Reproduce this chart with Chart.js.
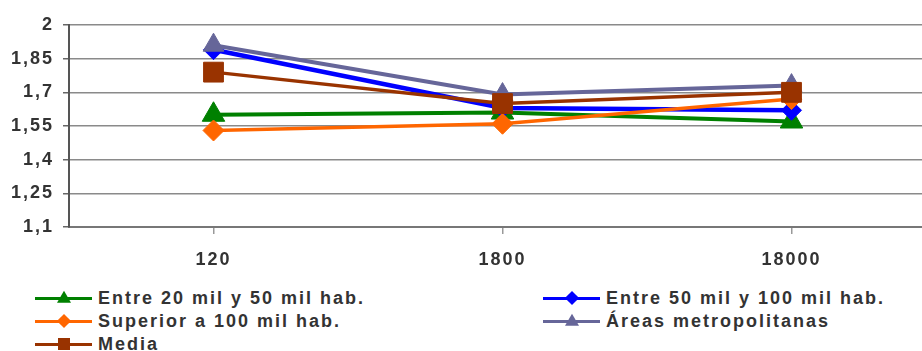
<!DOCTYPE html>
<html>
<head>
<meta charset="utf-8">
<script src="https://cdn.jsdelivr.net/npm/chart.js@4.4.1/dist/chart.umd.min.js"></script>
<style>
  html, body { margin: 0; padding: 0; background: #fff; overflow: hidden; }
  #wrap { position: relative; width: 922px; height: 351px; overflow: hidden; }
  #chart { position: absolute; left: 0; top: 0; }
  .legend-item {
    position: absolute; height: 20px; display: flex; align-items: center;
    font: bold 18px "Liberation Sans", Arial, sans-serif; letter-spacing: 2px;
    color: #333; white-space: nowrap;
  }
  .legend-sample { position: relative; width: 57px; height: 3px; margin-right: 6px; }
  .legend-marker { position: absolute; left: 50%; top: 50%; }
</style>
</head>
<body>
<div id="wrap">
  <canvas id="chart" width="951" height="280"></canvas>
  <div id="legend"></div>
</div>
<script>
// population size categories on the x axis
const categories = ['120', '1800', '18000'];
const yTicks = [1.1, 1.25, 1.4, 1.55, 1.7, 1.85, 2];

const seriesNames = [
    'Entre 20 mil y 50 mil hab.',
    'Entre 50 mil y 100 mil hab.',
    'Superior a 100 mil hab.',
    'Áreas metropolitanas',
    'Media'
];
const entre20y50 = [1.60, 1.61, 1.57];
const entre50y100 = [1.89, 1.63, 1.62];
const superior100 = [1.53, 1.56, 1.67];
const areasMetro = [1.91, 1.69, 1.73];
const media = [1.79, 1.65, 1.70];

function makeSeries(label, data, color, style, radius, width, order) {
    return {
        label: label,
        data: data,
        borderColor: color,
        backgroundColor: color,
        borderWidth: width,
        pointStyle: style,
        pointRadius: radius,
        pointHoverRadius: radius,
        pointBorderWidth: 1,
        tension: 0,
        order: order
    };
}

const datasets = [
    makeSeries(seriesNames[0], entre20y50, '#008000', 'triangle', 13, 4, 5),
    makeSeries(seriesNames[1], entre50y100, '#0000ff', 'rectRot', 10, 4.5, 4),
    makeSeries(seriesNames[2], superior100, '#ff6600', 'rectRot', 10.5, 3.5, 3),
    makeSeries(seriesNames[3], areasMetro, '#666699', 'triangle', 12, 4, 2),
    makeSeries(seriesNames[4], media, '#993300', 'rect', 14, 3.5, 1)
];

// spaced-out lettering on the axis labels
const letterSpacingPlugin = {
    id: 'letterSpacing',
    beforeDraw(chart) {
        chart.ctx.letterSpacing = '2px';
    }
};

const tickFont = { family: '"Liberation Sans", Arial, sans-serif', size: 18, weight: 'bold' };

const chart = new Chart(document.getElementById('chart').getContext('2d'), {
    type: 'line',
    data: { labels: categories, datasets: datasets },
    plugins: [letterSpacingPlugin],
    options: {
        responsive: false,
        animation: false,
        events: [],
        layout: { padding: { top: 25, right: 5, left: 0, bottom: 0 } },
        plugins: { legend: { display: false }, tooltip: { enabled: false } },
        scales: {
            x: {
                offset: true,
                grid: { drawOnChartArea: false, drawTicks: true, tickLength: 7, color: '#999', lineWidth: 1.5 },
                border: { color: '#777', width: 2 },
                ticks: { color: '#333', font: tickFont, padding: 15 },
                afterFit(scale) { scale.height = 53; }
            },
            y: {
                min: 1.1,
                max: 2,
                afterBuildTicks(scale) {
                    scale.ticks = yTicks.map(v => ({ value: v }));
                },
                grid: { color: '#8a8a8a', lineWidth: 1.5, tickLength: 6, tickColor: '#666' },
                border: { color: '#555', width: 2 },
                ticks: {
                    color: '#333', font: tickFont, padding: 9,
                    callback: v => String(v).replace('.', ',')
                },
                afterFit(scale) { scale.width = 69; }
            }
        }
    }
});

// legend: two columns, line sample with marker, then the series name
const legendSlots = [
    { left: 35, top: 288 }, { left: 543, top: 288 },
    { left: 35, top: 311 }, { left: 543, top: 311 },
    { left: 35, top: 334 }
];

function markerHtml(style, color) {
    if (style === 'triangle') {
        return '<span class="legend-marker" style="width:0;height:0;border-left:7px solid transparent;' +
            'border-right:7px solid transparent;border-bottom:12px solid ' + color +
            ';transform:translate(-50%,-60%)"></span>';
    }
    if (style === 'rectRot') {
        return '<span class="legend-marker" style="width:10px;height:10px;background:' + color +
            ';transform:translate(-50%,-50%) rotate(45deg)"></span>';
    }
    return '<span class="legend-marker" style="width:12px;height:12px;background:' + color +
        ';transform:translate(-50%,-50%)"></span>';
}

function buildLegend(chart) {
    const legend = document.getElementById('legend');
    chart.data.datasets.forEach((ds, i) => {
        const item = document.createElement('div');
        item.className = 'legend-item';
        item.style.left = legendSlots[i].left + 'px';
        item.style.top = legendSlots[i].top + 'px';
        item.innerHTML = '<span class="legend-sample" style="background:' + ds.borderColor + '">' +
            markerHtml(ds.pointStyle, ds.borderColor) + '</span><span>' + ds.label + '</span>';
        legend.appendChild(item);
    });
}

buildLegend(chart);
</script>
</body>
</html>
